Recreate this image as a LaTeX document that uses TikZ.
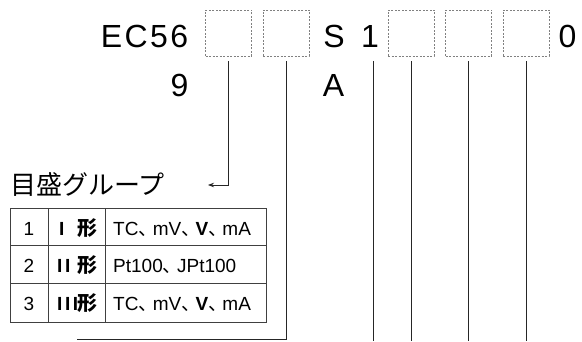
\documentclass[tikz,border=0pt]{standalone}
\usepackage{fontspec}
\setmainfont{Liberation Sans}
\newfontfamily\jpfont{Noto Sans CJK JP}
\usetikzlibrary{arrows.meta}
\usetikzlibrary{positioning}
\newcommand{\jpComma}{\makebox[0.75em][l]{\jpfont 、}}
\newcommand{\romanBars}[1]{\textbf{\foreach \i in {1,...,#1}{\ifnum\i>1\kern2.6pt\fi I}}}

\begin{document}
\begin{tikzpicture}[x=1pt,y=1pt,
		slot/.style={draw=gray, dash pattern=on 2pt off 1.5pt, line width=0.7pt,
			minimum width=46pt, minimum height=46pt, inner sep=0pt},
		code/.style={inner sep=0pt, font=\fontsize{32}{36}\selectfont},
		cell/.style={inner sep=0pt, font=\fontsize{19}{22}\selectfont},
		kanji/.style={inner sep=0pt, font=\fontsize{20}{22}\selectfont\jpfont\bfseries},
		lead/.style={line width=0.8pt, black!85}]

		\useasboundingbox (0,0) rectangle (582,341);
		\coordinate (floor) at (0,0);

		% code row
		\node [code, anchor=base east] (ec) at (188.5,294) {E\kern2.5pt C\kern2.5pt 5\kern2.5pt 6};
		\node [slot] (s1) at (228.5,308) {};
		\node [slot] (s2) at (286,308) {};
		\node [code, anchor=base] (sChar) at (334,294) {S};
		\node [code, anchor=base] (one) at (370,294) {1};
		\node [slot] (s3) at (411,308) {};
		\node [slot] (s4) at (468.5,308) {};
		\node [slot] (s5) at (526,308) {};
		\node [code, anchor=base] (zero) at (567.5,294) {0};

		% second row
		\node [code, anchor=base east] (nine) at (188.5,244) {9};
		\node [code, anchor=base] (aChar) at (333.5,244) {A};

		% scale group
		\node [anchor=west, inner sep=0pt, font=\fontsize{26}{30}\selectfont\jpfont] (grp) at (10,156) {目盛グループ};
		\coordinate (grpArrow) at (208,156);
		\coordinate (tblEnd) at (77,2);
		\coordinate (oneTop) at (373,280);

		\draw [lead, -{Stealth[length=6pt,width=4.5pt]}] ([yshift=-5pt]s1.south) |- (grpArrow);
		\draw [lead] ([yshift=-5pt]s2.south) |- (tblEnd);
		\draw [lead] (oneTop) -- (oneTop |- floor);
		\draw [lead] ([yshift=-5pt]s3.south) -- (s3.south |- floor);
		\draw [lead] ([yshift=-5pt]s4.south) -- (s4.south |- floor);
		\draw [lead] ([yshift=-5pt]s5.south) -- (s5.south |- floor);

		% table
		\draw [black!75, line width=0.8pt] (10,19) rectangle (266,133);
		\foreach \y in {58,96} \draw [black!75, line width=0.8pt] (10,\y) -- (266,\y);
		\foreach \x in {48,105} \draw [black!75, line width=0.8pt] (\x,19) -- (\x,133);

		\node [cell, anchor=base] (n1) at (29,106) {1};
		\node [cell, anchor=base] (n2) at (29,68.5) {2};
		\node [cell, anchor=base] (n3) at (29,31) {3};

		\node [cell, anchor=base west] (g1) at (59,106) {\romanBars{1}};
		\node [cell, anchor=base west] (g2) at (57,68.5) {\romanBars{2}};
		\node [cell, anchor=base west] (g3) at (57,31) {\romanBars{3}};
		\node [kanji, anchor=base west] (k1) at (77.5,106) {形};
		\node [kanji, anchor=base west] (k2) at (77.5,68.5) {形};
		\node [kanji, anchor=base west] (k3) at (77,31) {形};

		\node [cell, anchor=base west] (r1) at (113,106) {TC\jpComma mV\jpComma\textbf{V}\jpComma mA};
		\node [cell, anchor=base west] (r2) at (113,68.5) {Pt100\jpComma JPt100};
		\node [cell, anchor=base west] (r3) at (113,31) {TC\jpComma mV\jpComma\textbf{V}\jpComma mA};
	\end{tikzpicture}
\end{document}
